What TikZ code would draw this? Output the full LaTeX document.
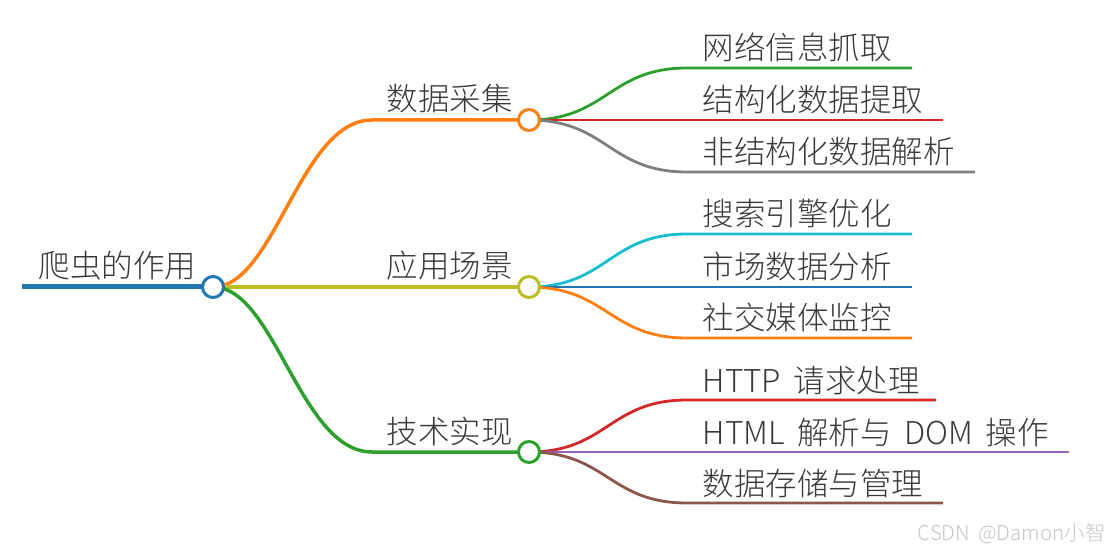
\documentclass[tikz,border=0pt]{standalone}
\usepackage{fontspec}
\IfFontExistsTF{Noto Sans CJK SC Light}
  {\setmainfont{Noto Sans CJK SC Light}[WordSpace=1.8]}
  {\setmainfont{Noto Sans CJK SC}[WordSpace=1.8]}
\definecolor{cblue}{HTML}{1F77B4}
\definecolor{corange}{HTML}{FF7F0E}
\definecolor{cgreen}{HTML}{2CA02C}
\definecolor{cred}{HTML}{D62728}
\definecolor{cpurple}{HTML}{9467BD}
\definecolor{cbrown}{HTML}{8C564B}
\definecolor{cgray}{HTML}{7F7F7F}
\definecolor{colive}{HTML}{BCBD22}
\definecolor{ccyan}{HTML}{17BECF}
\definecolor{txt}{HTML}{3A3A3A}
\definecolor{wm}{HTML}{C4C4C4}
\begin{document}
\begin{tikzpicture}[x=1pt,y=-1pt,
  lbl/.style={anchor=base west, inner sep=0pt, text=txt, font=\fontsize{31.5}{36}\selectfont},
  hub/.style={circle, draw, fill=white, line width=3pt, minimum size=21pt, inner sep=0pt},
  rootln/.style={line width=5pt},
  br/.style={line width=3.5pt},
  lf/.style={line width=2.8pt}]
\useasboundingbox (0,0) rectangle (1111,553);

% key points
\coordinate (rs) at (22,287);
\coordinate (r) at (213,287);
\coordinate (b1) at (529,120);
\coordinate (b2) at (529,287);
\coordinate (b3) at (529,452);
\coordinate (k1) at (372,120);
\coordinate (k3) at (372,452);

% leaf start / end points
\coordinate (s11) at (687,68);  \coordinate (e11) at (912,68);
\coordinate (s12) at (687,120); \coordinate (e12) at (943,120);
\coordinate (s13) at (687,172); \coordinate (e13) at (975,172);
\coordinate (s21) at (687,234); \coordinate (e21) at (912,234);
\coordinate (s22) at (687,287); \coordinate (e22) at (912,287);
\coordinate (s23) at (687,338); \coordinate (e23) at (912,338);
\coordinate (s31) at (687,400); \coordinate (e31) at (936,400);
\coordinate (s32) at (687,452); \coordinate (e32) at (1069,452);
\coordinate (s33) at (687,503); \coordinate (e33) at (943,503);

% root line
\draw[rootln,cblue] (rs) -- (r);

% branches
\draw[br,corange] (r) .. controls +(62,0) and +(-72,0) .. (k1) -- (b1);
\draw[br,colive] (r) -- (b2);
\draw[br,cgreen] (r) .. controls +(62,0) and +(-72,0) .. (k3) -- (b3);

% leaves group 1
\draw[lf,cgreen] (b1) .. controls +(78,0) and +(-78,0) .. (s11) -- (e11);
\draw[lf,cred] (b1) -- (e12);
\draw[lf,cgray] (b1) .. controls +(78,0) and +(-78,0) .. (s13) -- (e13);
% leaves group 2
\draw[lf,ccyan] (b2) .. controls +(78,0) and +(-78,0) .. (s21) -- (e21);
\draw[lf,cblue] (b2) -- (e22);
\draw[lf,corange] (b2) .. controls +(78,0) and +(-78,0) .. (s23) -- (e23);
% leaves group 3
\draw[lf,cred] (b3) .. controls +(78,0) and +(-78,0) .. (s31) -- (e31);
\draw[lf,cpurple] (b3) -- (e32);
\draw[lf,cbrown] (b3) .. controls +(78,0) and +(-78,0) .. (s33) -- (e33);

% hubs
\node[hub,draw=cblue] (rc) at (r) {};
\node[hub,draw=corange] (bc1) at (b1) {};
\node[hub,draw=colive] (bc2) at (b2) {};
\node[hub,draw=cgreen] (bc3) at (b3) {};

% labels
\node[lbl] (t0) at (38.5,278) {爬虫的作用};
\node[lbl] (t1) at (386.5,111) {数据采集};
\node[lbl] (t2) at (386.5,278) {应用场景};
\node[lbl] (t3) at (386.5,443) {技术实现};

\node[lbl] (t11) at (702.5,60) {网络信息抓取};
\node[lbl] (t12) at (702.5,112) {结构化数据提取};
\node[lbl] (t13) at (702.5,164) {非结构化数据解析};
\node[lbl] (t21) at (702.5,226) {搜索引擎优化};
\node[lbl] (t22) at (702.5,279) {市场数据分析};
\node[lbl] (t23) at (702.5,330) {社交媒体监控};
\node[lbl] (t31) at (702.5,392) {HTTP 请求处理};
\node[lbl] (t32) at (702.5,444) {HTML 解析与 DOM 操作};
\node[lbl] (t33) at (702.5,495) {数据存储与管理};

% watermark
\node[anchor=base east, inner sep=0pt, text=wm, font=\fontsize{20.5}{24}\selectfont] (wmk) at (1106,540) {CSDN @Damon小智};
\end{tikzpicture}
\end{document}
